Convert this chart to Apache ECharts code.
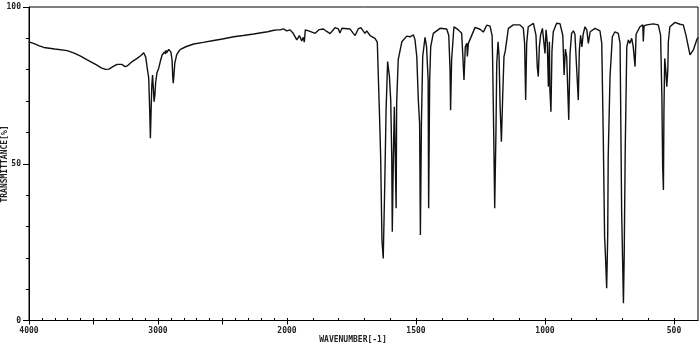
<!DOCTYPE html>
<html>
<head>
<meta charset="utf-8">
<script src="https://cdn.jsdelivr.net/npm/echarts@6/dist/echarts.min.js"></script>
<style>html,body{margin:0;padding:0;background:#fff;}#c{width:700px;height:349px;}</style>
</head>
<body>
<div id="c"></div>
<script>
// IR spectrum: wavenumber (cm-1) and transmittance (%)
const wavenumbers = [
4000,3960,3920,3885,3800,3704,3650,3600,3549,3480,3440,3407,3380,3350,3317,3280,3255,3239,3200,3162,3130,3111,3095,3080,3072,3065,3059,3054,3048,3042,3036,3030,3024,3018,3008,2995,2980,2968,2950,2942,2938,2932,2917,2900,2891,2886,2882,2877,2870,2855,2840,2826,2780,2723,2650,2568,2500,2413,2340,2258,2200,2150,2110,2077,2054,2028,2002,
1988,1976,1962,1952,1943,1937,1933,1929,1911,1891,1875,1859,1846,1833,1814,1801,1795,1787,1756,1743,1736,1724,1714,1698,1691,1678,1671,1659,1650,
1646,1642,1637,1632,1627,1621,1616,1610,1603,1598,1594,1592,1588,1584,1580,1577,1575,1569,1555,1536,1523,1510,1504,1497,1491,1486,1483,1479,1474,1465,1459,1453,1451,1447,1443,1433,1407,1381,1373,1368,1366,1362,1353,1336,1323,1319,1314,1309,1303,1301,1297,1291,1271,1252,1239,1226,1213,1205,1203,1199,1195,1190,1187,1182,1178,1174,1169,1164,1159,1154,1142,1123,1097,1084,1079,1075,1071,1065,1045,1035,1030,1026,1022,1017,1010,1004,1000,996,991,987,983,981,977,973,968,955,942,931,926,921,916,908,903,897,890,884,877,871,867,862,857,852,845,838,832,825,806,787,780,774,769,765,761,757,755,748,739,729,716,709,703,696,693,689,683,677,671,664,658,651,647,632,621,619,616,606,580,561,552,547,544,541,539,536,532,528,524,522,516,496,477,464,454,438,425,412,407
];
const transmittance = [
88.9,88.3,87.6,87.1,86.6,86.1,85.3,84.3,83.1,81.6,80.6,80.1,80.2,81.0,81.7,81.7,81.0,81.2,82.6,83.6,84.6,85.4,84.0,79.5,77.3,68,58.1,66,75,78.3,74,69.8,72,76,79,80.4,83,84.7,85.7,85.0,86.2,85.4,86.5,85.6,83.1,78,75.7,78,82,84.8,85.8,86.5,87.4,88.2,88.7,89.3,89.8,90.5,90.9,91.4,91.8,92.1,92.5,92.7,92.7,93.0,92.4,
92.7,91.6,89.5,90.9,89.2,90.3,88.8,92.7,92.2,91.6,92.8,93.0,92.2,91.5,93.4,93.0,91.7,93.2,93.0,91.6,90.9,93.0,93.4,91.6,92.4,90.9,91.5,90.0,88.8,
77.8,67.1,52.3,25.7,19.8,43.8,67.1,82.6,77.8,70.3,52.3,28.3,51,68.2,50.2,35.8,69.4,83.1,88.9,90.7,90.5,91.1,89.6,84.2,70.3,62.9,27.3,62.9,84.2,90.3,87.3,76.7,35.8,76.7,87.3,91.6,93.2,93.0,90.9,79.9,67.1,83,93.7,92.7,91.6,85.2,76.7,87.3,88.4,84.2,88.4,88.9,93.5,92.9,92.0,94.2,93.9,90.9,83.1,60.8,35.8,60.8,82,88.9,84.2,68.2,57,71.5,84.2,86,93.2,94.3,94.3,93.2,88.4,70.3,88.4,93.7,94.8,91,81,77.8,87.3,91.1,93.2,93.2,85.2,92.7,88.4,74.6,88.9,73.5,66.6,86,92.1,94.8,94.7,91,78.3,86.6,84.2,64,85.2,91.6,92.4,91.3,79.9,70.3,86,91,87.3,91.3,93.7,92.7,88.4,92.1,93.2,92.4,88.4,57.6,26.7,19.3,10.3,26.7,52.3,77.8,90.5,92.1,91.6,88.4,35.2,5.5,21,55,87.3,89.5,88.4,90,87.3,81,91.3,93.7,94.3,89,94,94.3,94.6,94.3,91,71.4,49.1,41.6,67,83.6,80,74.6,80,88.9,93.7,95.1,94.5,94.3,91.1,84.7,86.3,89.5,90.3
];
// axis tick positions (wavenumbers)
const labelWavenumbers = [4000,3000,2000,1500,1000,500];
const majorTickWavenumbers = [4000,3500,3000,2500,2000,1500,1000,500];
const minorTickWavenumbers = [];
for (let w = 4000; w >= 2000; w -= 100) minorTickWavenumbers.push(w);
for (let w = 1900; w >= 500; w -= 100) minorTickWavenumbers.push(w);
const yLabelValues = [0,50,100];

// piecewise IR abscissa: 4000-2000 compressed by 2x
function toU(w){ return w >= 2000 ? (4000 - w) / 2 : 1000 + (2000 - w); }
function toW(u){ return u <= 1000 ? Math.round(4000 - 2 * u) : Math.round(2000 - (u - 1000)); }

const seriesData = wavenumbers.map((w, i) => [toU(w), transmittance[i]]);
const font = 'DejaVu Sans Mono';

const chart = echarts.init(document.getElementById('c'), null, {renderer: 'canvas'});
chart.setOption({
  animation: false,
  backgroundColor: '#fff',
  grid: {left: 29, top: 7, right: 2, bottom: 28.5, show: true, borderColor: '#000', borderWidth: 1},
  xAxis: [{
    type: 'value', min: 0, max: toU(407), position: 'bottom',
    axisLine: {lineStyle: {color: '#000', width: 1}},
    axisTick: {show: true, inside: true, length: 2.5, customValues: minorTickWavenumbers.map(toU), lineStyle: {color: '#000'}},
    axisLabel: {show: false},
    splitLine: {show: false}
  }, {
    type: 'value', min: 0, max: toU(407), position: 'bottom',
    axisLine: {show: false},
    axisTick: {show: true, inside: false, length: 4, customValues: majorTickWavenumbers.map(toU), lineStyle: {color: '#000'}},
    axisLabel: {show: true, customValues: labelWavenumbers.map(toU), formatter: v => String(toW(v)), margin: 6, fontFamily: font, fontSize: 8, fontWeight: 'bold', color: '#222'},
    splitLine: {show: false}
  }],
  yAxis: [{
    type: 'value', min: 0, max: 100, interval: 10, position: 'left',
    axisLine: {show: true, lineStyle: {color: '#000', width: 1}},
    axisTick: {show: true, inside: false, length: 3, lineStyle: {color: '#000'}},
    axisLabel: {show: true, customValues: yLabelValues, margin: 8, fontFamily: font, fontSize: 8, fontWeight: 'bold', color: '#222'},
    splitLine: {show: false}
  }, {
    type: 'value', min: 0, max: 100, position: 'left',
    axisLine: {show: false},
    axisTick: {show: true, inside: false, length: 6, customValues: yLabelValues, lineStyle: {color: '#000'}},
    axisLabel: {show: false},
    splitLine: {show: false}
  }],
  series: [{
    type: 'line', xAxisIndex: 0, yAxisIndex: 0,
    data: seriesData, showSymbol: false, symbol: 'none',
    lineStyle: {color: '#111', width: 1.4}, smooth: false
  }],
  graphic: [
    {type: 'text', x: 353, y: 340, style: {text: 'WAVENUMBER[-1]', fontFamily: font, fontSize: 8, fontWeight: 'bold', fill: '#222', align: 'center', verticalAlign: 'middle'}},
    {type: 'text', x: 5, y: 164, rotation: Math.PI / 2, style: {text: 'TRANSMITTANCE[%]', fontFamily: font, fontSize: 8, fontWeight: 'bold', fill: '#222', align: 'center', verticalAlign: 'middle'}}
  ]
});
</script>
</body>
</html>
